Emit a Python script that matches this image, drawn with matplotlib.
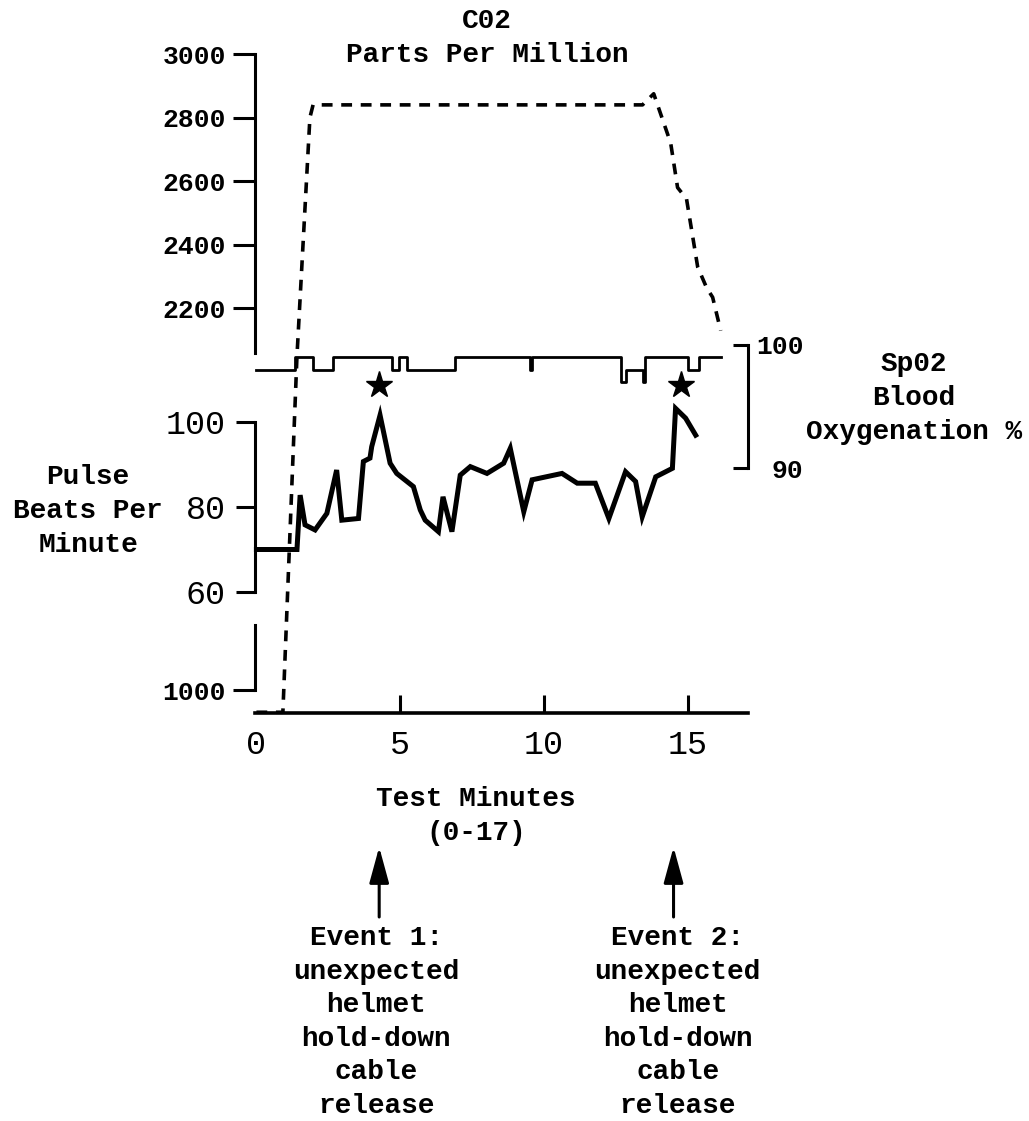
import matplotlib.pyplot as plt

# -----------------------------
# Data
# -----------------------------
# CO2 (ppm), dashed trace
co2_min = [0, 0.92, 1.41, 1.86, 1.97, 13.43, 13.82, 14.41, 14.65, 14.96, 15.35, 15.66, 15.87, 16.15]
co2_ppm = [930, 930, 2050, 2800, 2840, 2840, 2875, 2720, 2580, 2545, 2330, 2265, 2235, 2130]

# Pulse (beats per minute), thick solid trace
pulse_min = [0, 1.41, 1.52, 1.69, 2.04, 2.45, 2.79, 2.97, 3.55, 3.72, 3.95, 4.01, 4.30,
             4.65, 4.88, 5.46, 5.70, 5.87, 6.33, 6.49, 6.80, 7.09, 7.44, 8.02, 8.60,
             8.83, 9.30, 9.59, 10.63, 11.16, 11.79, 12.26, 12.84, 13.19, 13.42, 13.89,
             14.47, 14.58, 14.93, 15.28]
pulse_bpm = [70, 70, 82.8, 75.8, 74.6, 78.5, 88.7, 76.9, 77.3, 90.7, 91.5, 94.2, 101.6,
             90.3, 87.9, 84.8, 79.3, 76.9, 74.2, 82.4, 74.2, 87.5, 89.5, 87.9, 90.3,
             93.8, 78.9, 86.4, 87.9, 85.6, 85.6, 77.3, 88.3, 86.0, 77.7, 87.1,
             89.1, 103.2, 100.9, 96.9]

# SpO2 (%), thin step trace
spo2_min = [0, 1.34, 1.97, 2.67, 4.72, 4.95, 5.24, 6.92, 9.50, 9.58,
            12.67, 12.84, 13.43, 13.50, 15.03, 15.38, 16.15]
spo2_pct = [98, 99, 98, 99, 98, 99, 98, 99, 98, 99,
            97, 98, 97, 99, 98, 99, 99]

# event markers
star_min = [4.27, 14.76]
star_bpm = [108.7, 108.7]
event_min = [4.27, 14.51]
event_text_min = [4.17, 14.65]
event_labels = ["Event 1:\nunexpected\nhelmet\nhold-down\ncable\nrelease",
                "Event 2:\nunexpected\nhelmet\nhold-down\ncable\nrelease"]

x_ticks = [0, 5, 10, 15]
co2_ticks = [2200, 2400, 2600, 2800, 3000]
co2_low_ticks = [1000]
pulse_ticks = [60, 80, 100]
spo2_ticks = [90, 100]

# -----------------------------
# Layout (pixel geometry of the original)
# -----------------------------
W, H = 1029, 1121
LEFT, RIGHT, TOP, BOTTOM = 255, 748, 53, 713

MONO = "Liberation Mono"
LW = 2.2


def lims(v1, p1, v2, p2):
    # two (value, pixel row) anchors -> y limits at the axes bottom and top
    k = (v2 - v1) / (p1 - p2)
    return v1 + (p1 - BOTTOM) * k, v1 + (p1 - TOP) * k


def fx(px):
    return px / W


def fy(py):
    return 1 - py / H


fig = plt.figure(figsize=(W / 100, H / 100), dpi=100)
ax = fig.add_axes([fx(LEFT), fy(BOTTOM), (RIGHT - LEFT) / W, (BOTTOM - TOP) / H])
ax_low = ax.twinx()
ax_s = ax.twinx()
ax_p = ax.twinx()

co2_lim = lims(1000, 690, 3000, 54)
pulse_lim = lims(60, 592, 100, 422)
spo2_lim = lims(90, 468, 100, 345)

ax.set_xlim(-0.05, 17.1)

for a in (ax, ax_low, ax_s, ax_p):
    for s in a.spines.values():
        s.set_visible(False)
        s.set_linewidth(LW)

# CO2 axis (upper part of left spine)
ax.set_ylim(co2_lim)
ax.spines["left"].set_visible(True)
ax.spines["left"].set_bounds(2060, 3000)
ax.spines["bottom"].set_visible(True)
ax.spines["bottom"].set_linewidth(2.6)
ax.set_yticks(co2_ticks, labels=[str(v) for v in co2_ticks],
              fontfamily=MONO, fontweight="bold", fontsize=19)
ax.tick_params(axis="y", direction="out", length=16, width=LW, pad=5)
ax.set_xticks(x_ticks, labels=[str(v) for v in x_ticks], fontfamily=MONO, fontsize=24)
ax.tick_params(axis="x", direction="in", length=13, width=LW, pad=12)
ax.xaxis.get_major_ticks()[0].tick1line.set_visible(False)

# CO2 axis (short lower piece with the 1000 tick)
ax_low.set_ylim(co2_lim)
ax_low.yaxis.tick_left()
ax_low.spines["left"].set_visible(True)
ax_low.spines["left"].set_bounds(1000, 1205)
ax_low.set_yticks(co2_low_ticks, labels=[str(v) for v in co2_low_ticks],
                  fontfamily=MONO, fontweight="bold", fontsize=19)
ax_low.tick_params(axis="y", direction="out", length=16, width=LW, pad=5)

# Pulse axis
ax_p.set_ylim(pulse_lim)
ax_p.yaxis.tick_left()
ax_p.spines["left"].set_visible(True)
ax_p.spines["left"].set_bounds(60, 100)
ax_p.set_yticks(pulse_ticks, labels=[str(v) for v in pulse_ticks], fontfamily=MONO, fontsize=24)
ax_p.tick_params(axis="y", direction="out", length=14, width=LW, pad=7)

# SpO2 axis (bracket on the right)
ax_s.set_ylim(spo2_lim)
ax_s.yaxis.tick_right()
ax_s.spines["right"].set_visible(True)
ax_s.spines["right"].set_bounds(90, 100)
ax_s.set_yticks(spo2_ticks, labels=[str(v) for v in spo2_ticks],
                fontfamily=MONO, fontweight="bold", fontsize=19)
ax_s.tick_params(axis="y", direction="in", length=11, width=LW, pad=40)
for lbl in ax_s.get_yticklabels():
    lbl.set_horizontalalignment("right")

# -----------------------------
# Traces
# -----------------------------
ax.plot(co2_min, co2_ppm, color="black", lw=2.6, ls=(0, (3.0, 2.4)),
        dash_capstyle="butt", clip_on=False)
ax_s.plot(spo2_min, spo2_pct, color="black", lw=2.0, drawstyle="steps-post", clip_on=False)
ax_p.plot(pulse_min, pulse_bpm, color="black", lw=3.6, solid_joinstyle="miter", clip_on=False)
ax_p.plot(star_min, star_bpm, ls="none", marker="*", ms=20, color="black", clip_on=False)

# event arrows below the axis
xt = ax.get_xaxis_transform()
for t in event_min:
    ax.annotate("", xy=(t, (BOTTOM - 847) / (BOTTOM - TOP)), xycoords=xt,
                xytext=(t, (BOTTOM - 917) / (BOTTOM - TOP)), textcoords=xt,
                arrowprops=dict(arrowstyle="-|>,head_length=0.55,head_width=0.15",
                                mutation_scale=40, lw=2.2, color="black",
                                shrinkA=0, shrinkB=0),
                annotation_clip=False)

SPACING = 1.38
for t, lab in zip(event_text_min, event_labels):
    ax.text(t, (BOTTOM - 1022) / (BOTTOM - TOP), lab, transform=xt,
            ha="center", va="center", multialignment="center", linespacing=SPACING,
            fontfamily=MONO, fontweight="bold", fontsize=20, clip_on=False)

# -----------------------------
# Labels
# -----------------------------
text_kw = dict(ha="center", va="center", multialignment="center", linespacing=SPACING,
               fontfamily=MONO, fontweight="bold", fontsize=20)
fig.text(fx(487), fy(38), "C02\nParts Per Million", **text_kw)
fig.text(fx(88), fy(511), "Pulse\nBeats Per\nMinute", **text_kw)
fig.text(fx(914), fy(398), "Sp02\nBlood\nOxygenation %", **text_kw)
fig.text(fx(476), fy(816), "Test Minutes\n(0-17)", **text_kw)

fig.savefig("out.png", dpi=100)
